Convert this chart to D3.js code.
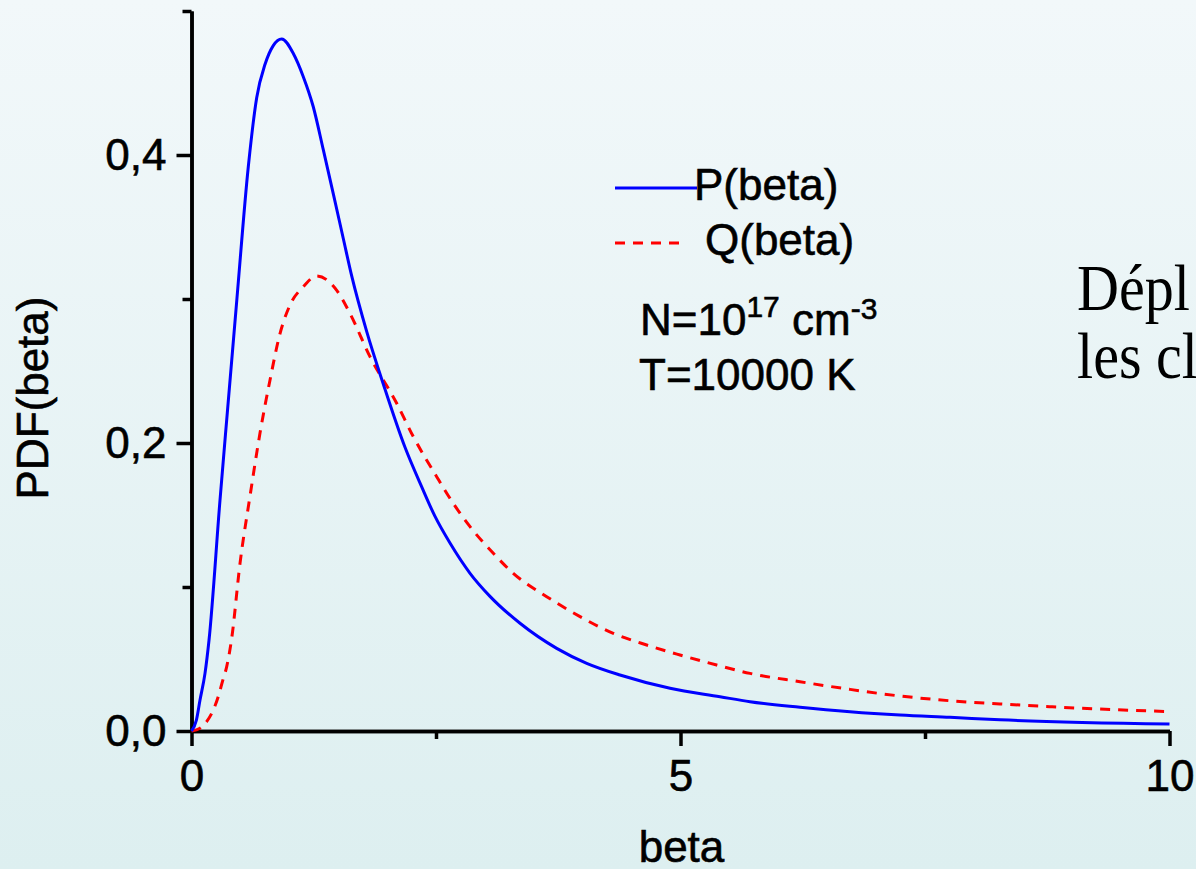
<!DOCTYPE html>
<html>
<head>
<meta charset="utf-8">
<script src="https://cdn.jsdelivr.net/npm/d3@7"></script>
<style>
  html, body { margin: 0; padding: 0; overflow: hidden; }
  body { width: 1196px; height: 869px; }
  svg { display: block; }
  .sans { font-family: "Liberation Sans", Arial, sans-serif; }
  .serif { font-family: "Liberation Serif", "Times New Roman", serif; }
</style>
</head>
<body>
<svg id="chart" width="1196" height="869"></svg>
<script>
// Probability density of beta: P(beta) and Q(beta), N=1e17 cm^-3, T=10000 K
const pBeta = [0, 0.05, 0.087, 0.138, 0.179, 0.291, 0.366, 0.463, 0.581, 0.667, 0.752, 0.836, 0.922,
  1.041, 1.143, 1.245, 1.348, 1.45, 1.552, 1.638, 1.791, 1.961, 2.183, 2.354, 2.49, 2.643, 2.848,
  3.052, 3.359, 3.734, 4.041, 4.381, 4.893, 5.404, 5.711, 6.222, 6.733, 7.245, 7.756, 8.267, 10];
const pValues = [0, 0.0076, 0.0215, 0.040, 0.063, 0.160, 0.221, 0.299, 0.392, 0.440, 0.463, 0.476, 0.4806,
  0.4705, 0.4544, 0.4335, 0.4035, 0.373, 0.342, 0.316, 0.2775, 0.241, 0.197, 0.1695, 0.149, 0.1305, 0.1095,
  0.0935, 0.0748, 0.0574, 0.047, 0.0389, 0.0297, 0.0238, 0.0203, 0.0165, 0.0134, 0.0111, 0.0095, 0.0078, 0.0048];

const qBeta = [0, 0.087, 0.155, 0.223, 0.274, 0.319, 0.36, 0.411, 0.496, 0.598, 0.70, 0.803, 0.905,
  1.007, 1.143, 1.28, 1.485, 1.62, 1.825, 2.098, 2.268, 2.507, 2.677, 2.848, 3.086, 3.29, 3.632,
  3.973, 4.313, 4.654, 4.995, 5.37, 5.711, 6.222, 6.733, 7.245, 7.756, 8.267, 8.8, 9.8, 10];
const qValues = [0, 0.0019, 0.0065, 0.0146, 0.024, 0.035, 0.0447, 0.0644, 0.1164, 0.163, 0.2067, 0.2438, 0.276,
  0.2958, 0.3085, 0.316, 0.306, 0.290, 0.26, 0.2276, 0.2044, 0.1766, 0.158, 0.1419, 0.1234, 0.1095, 0.0933,
  0.0794, 0.0678, 0.0597, 0.0528, 0.0458, 0.040, 0.0342, 0.0289, 0.0243, 0.021, 0.0188, 0.0168, 0.0139, 0.0135];

const xMajorTicks = [0, 5, 10];
const xMinorTicks = [2.5, 7.5];
const yMajorTicks = [0, 0.2, 0.4];
const yMinorTicks = [0.1, 0.3, 0.5];

const seriesNames = ["P(beta)", "Q(beta)"];
const xTitle = "beta";
const yTitle = "PDF(beta)";
const noteLines = ["Dépl", "les cl"];

const svg = d3.select("#chart");

// soft vertical background
const defs = svg.append("defs");
const grad = defs.append("linearGradient").attr("id", "bg")
  .attr("x1", 0).attr("y1", 0).attr("x2", 0).attr("y2", 1);
grad.append("stop").attr("offset", "0%").attr("stop-color", "#f2f8fa");
grad.append("stop").attr("offset", "100%").attr("stop-color", "#ddeff0");
svg.append("rect").attr("width", 1196).attr("height", 869).attr("fill", "url(#bg)");

const x = d3.scaleLinear().domain([0, 10]).range([191.5, 1169.5]);
const y = d3.scaleLinear().domain([0, 0.5]).range([731, 11]);

const fmtY = d => d.toFixed(1).replace(".", ",");

// axes
const axisStyle = g => {
  g.selectAll("path.domain").attr("stroke", "#000").attr("stroke-width", 3.5);
  g.selectAll(".tick line").attr("stroke", "#000").attr("stroke-width", 3.5);
  g.selectAll(".tick text").attr("fill", "#000").attr("stroke", "#000").attr("stroke-width", 0.6)
    .attr("font-family", "'Liberation Sans', Arial, sans-serif").attr("font-size", 44);
};

svg.append("g").attr("transform", `translate(0,${y(0)})`)
  .call(d3.axisBottom(x).tickValues(xMinorTicks).tickSize(8).tickSizeOuter(0).tickFormat(""))
  .call(axisStyle);
svg.append("g").attr("transform", `translate(${x(0)},0)`)
  .call(d3.axisLeft(y).tickValues(yMinorTicks).tickSize(9).tickSizeOuter(0).tickFormat(""))
  .call(axisStyle);
svg.append("g").attr("transform", `translate(0,${y(0)})`)
  .call(d3.axisBottom(x).tickValues(xMajorTicks).tickSize(15).tickSizeOuter(0).tickPadding(14).tickFormat(d3.format("d")))
  .call(axisStyle);
svg.append("g").attr("transform", `translate(${x(0)},0)`)
  .call(d3.axisLeft(y).tickValues(yMajorTicks).tickSize(15).tickSizeOuter(0).tickPadding(10).tickFormat(fmtY))
  .call(axisStyle);

// curves
const line = d3.line().x(d => x(d[0])).y(d => y(d[1])).curve(d3.curveMonotoneX);
const pData = pBeta.map((b, i) => [b, pValues[i]]);
const qData = qBeta.map((b, i) => [b, qValues[i]]);

svg.append("path").datum(qData).attr("d", line)
  .attr("fill", "none").attr("stroke", "#ff0000").attr("stroke-width", 3)
  .attr("stroke-dasharray", "10,8");
svg.append("path").datum(pData).attr("d", line)
  .attr("fill", "none").attr("stroke", "#0000ff").attr("stroke-width", 3);

// legend
const leg = svg.append("g").attr("class", "sans").attr("font-size", 44).attr("fill", "#000")
  .attr("stroke", "#000").attr("stroke-width", 0.6);
leg.append("line").attr("x1", 615).attr("x2", 697).attr("y1", 188).attr("y2", 188)
  .attr("stroke", "#0000ff").attr("stroke-width", 3);
leg.append("text").attr("x", 694).attr("y", 200).text(seriesNames[0]);
leg.append("line").attr("x1", 615).attr("x2", 682).attr("y1", 243).attr("y2", 243)
  .attr("stroke", "#ff0000").attr("stroke-width", 3).attr("stroke-dasharray", "10,8");
leg.append("text").attr("x", 705).attr("y", 255).text(seriesNames[1]);

// conditions
const n = leg.append("text").attr("x", 640).attr("y", 335);
n.append("tspan").text("N=10");
n.append("tspan").attr("font-size", 30).attr("dy", -18).text("17");
n.append("tspan").attr("dy", 18).text(" cm");
n.append("tspan").attr("font-size", 30).attr("dy", -16).text("-3");
leg.append("text").attr("x", 639).attr("y", 390).text("T=10000 K");

// axis titles
const titles = svg.append("g").attr("class", "sans").attr("font-size", 44).attr("text-anchor", "middle")
  .attr("fill", "#000").attr("stroke", "#000").attr("stroke-width", 0.6);
titles.append("text").attr("x", 681.5).attr("y", 862).text(xTitle);
titles.append("text").attr("transform", "translate(48,398) rotate(-90)").text(yTitle);

// side note text
const note = svg.append("g").attr("class", "serif").attr("font-size", 66).attr("fill", "#000")
  .attr("transform", "translate(1077,0) scale(0.88,1)");
note.append("text").attr("x", 0).attr("y", 310).text(noteLines[0]);
note.append("text").attr("x", 0).attr("y", 378).text(noteLines[1]);
</script>
</body>
</html>
